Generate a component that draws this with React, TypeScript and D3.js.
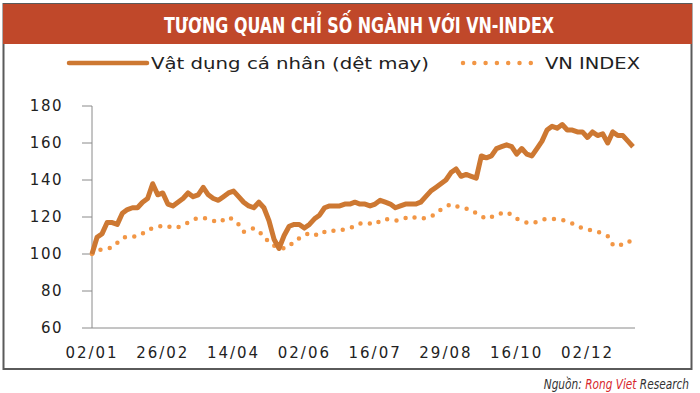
import React from "react";
import { scaleLinear, line } from "d3";

const title = "TƯƠNG QUAN CHỈ SỐ NGÀNH VỚI VN-INDEX";
const sectorName = "Vật dụng cá nhân (dệt may)";
const indexName = "VN INDEX";

const xLabels = ["02/01", "26/02", "14/04", "02/06", "16/07", "29/08", "16/10", "02/12"];
const labelEvery = 14;
const yTicks = [60, 80, 100, 120, 140, 160, 180];

// Vat dung ca nhan (det may), indexed to 100
const sector = [
  100, 109, 111, 117, 117, 116, 122, 124, 125, 125,
  128, 130, 138, 132, 133, 127, 126, 128, 130, 133,
  131, 132, 136, 132, 130, 129, 131, 133, 134, 131,
  128, 126, 125, 128, 125, 118, 108, 103, 110, 115,
  116, 116, 114, 116, 119, 121, 125, 126, 126, 126,
  127, 127, 128, 127, 127, 126, 127, 129, 128, 127,
  125, 126, 127, 127, 127, 128, 131, 134, 136, 138,
  140, 144, 146, 142, 143, 142, 141, 153, 152, 153,
  157, 158, 159, 158, 154, 157, 154, 153, 157, 161,
  167, 169, 168, 170, 167, 167, 166, 166, 163, 166,
  164, 165, 160, 166, 164, 164, 161, 158,
];

// VN-Index, indexed to 100
const vnIndex = [
  100, 101.5, 102.7, 103, 103.5, 106, 108.5, 109.5, 109.5, 109.5,
  111, 113, 114, 114.5, 115.5, 115, 114, 114.5, 115.5, 117,
  118.5, 119.5, 119.5, 119, 118, 117, 118.5, 120, 118.5, 116,
  112, 113, 114, 112, 110, 106, 104.5, 104, 103, 104,
  107, 108.5, 110, 111.5, 110.5, 110, 112, 113, 112.5, 112.5,
  113.5, 114, 115, 116.5, 117, 116.5, 116, 118, 119, 118.5,
  118, 118.5, 119.5, 120.5, 119.5, 119, 119.5, 120, 122, 124,
  125.5, 127, 126, 125, 124.5, 124, 122, 120.5, 119, 120,
  121.5, 122, 122.7, 121, 119, 118, 117, 116.5, 117.5, 118.7,
  119, 119, 118.8, 118.5, 117.5, 116.5, 115, 114, 113.5, 112.5,
  112, 111, 109.7, 105, 104, 105.5, 107, 106,
];

const font = "'DejaVu Sans', Verdana, sans-serif";
const condensed = "'DejaVu Sans Condensed', 'DejaVu Sans', sans-serif";
const lineColor = "#cd7832";
const dotColor = "#f29645";

export default function App() {
  const width = 700;
  const height = 393;
  const x = scaleLinear().domain([0, sector.length - 1]).range([92, 633]);
  const y = scaleLinear().domain([60, 180]).range([328, 106]);
  const path = line<number>()
    .x((_, i) => x(i))
    .y((d) => y(d));

  return (
    <svg
      width={width}
      height={height}
      style={{ position: "absolute", left: 0, top: 0, background: "#fff" }}
    >
      {/* frame */}
      <rect x={3.5} y={4} width={688} height={365} fill="#fff" stroke="#5a5a5a" strokeWidth={2} />
      <rect x={3} y={4} width={689} height={40} fill="#c0482a" />
      <text
        x={359}
        y={33}
        textAnchor="middle"
        fill="#fff"
        fontFamily={condensed}
        fontWeight="bold"
        fontSize={22}
        textLength={390}
        lengthAdjust="spacingAndGlyphs"
      >
        {title}
      </text>

      {/* legend */}
      <line x1={69} x2={147} y1={63} y2={63} stroke={lineColor} strokeWidth={4.5} strokeLinecap="round" />
      <text x={151} y={69} fontFamily={font} fontSize={15} fill="#222" textLength={278} lengthAdjust="spacingAndGlyphs">
        {sectorName}
      </text>
      <line
        x1={463}
        x2={531}
        y1={63}
        y2={63}
        stroke={dotColor}
        strokeWidth={4.5}
        strokeLinecap="round"
        strokeDasharray="0 11.3"
      />
      <text x={545} y={69} fontFamily={font} fontSize={15} fill="#222" textLength={95} lengthAdjust="spacingAndGlyphs">
        {indexName}
      </text>

      {/* axes */}
      <line x1={x(0)} x2={x(0)} y1={y(180)} y2={y(60)} stroke="#8a8a8a" strokeWidth={1} />
      <line x1={x(0)} x2={635} y1={y(60)} y2={y(60)} stroke="#8a8a8a" strokeWidth={1} />
      {yTicks.map((t) => (
        <g key={t}>
          <line x1={x(0) - 10} x2={x(0)} y1={y(t)} y2={y(t)} stroke="#8a8a8a" strokeWidth={1} />
          <text
            x={63}
            y={y(t) + 5}
            textAnchor="end"
            fontFamily={font}
            fontSize={15}
            letterSpacing={1.5}
            fill="#222"
          >
            {t}
          </text>
        </g>
      ))}
      {xLabels.map((l, i) => (
        <text
          key={l}
          x={x(i * labelEvery)}
          y={358}
          textAnchor="middle"
          fontFamily={font}
          fontSize={15}
          letterSpacing={2}
          fill="#222"
        >
          {l}
        </text>
      ))}

      {/* series */}
      <path
        d={path(vnIndex) ?? ""}
        fill="none"
        stroke={dotColor}
        strokeWidth={4.5}
        strokeLinecap="round"
        strokeDasharray="0 9.5"
      />
      <path
        d={path(sector) ?? ""}
        fill="none"
        stroke={lineColor}
        strokeWidth={5}
        strokeLinejoin="round"
      />

      {/* source */}
      <text
        transform="translate(689,389) scale(0.84,1)"
        textAnchor="end"
        fontFamily={condensed}
        fontStyle="italic"
        fontSize={14}
        fill="#333"
      >
        Nguồn: <tspan fill="#d7262b">Rong Viet</tspan> Research
      </text>
    </svg>
  );
}
